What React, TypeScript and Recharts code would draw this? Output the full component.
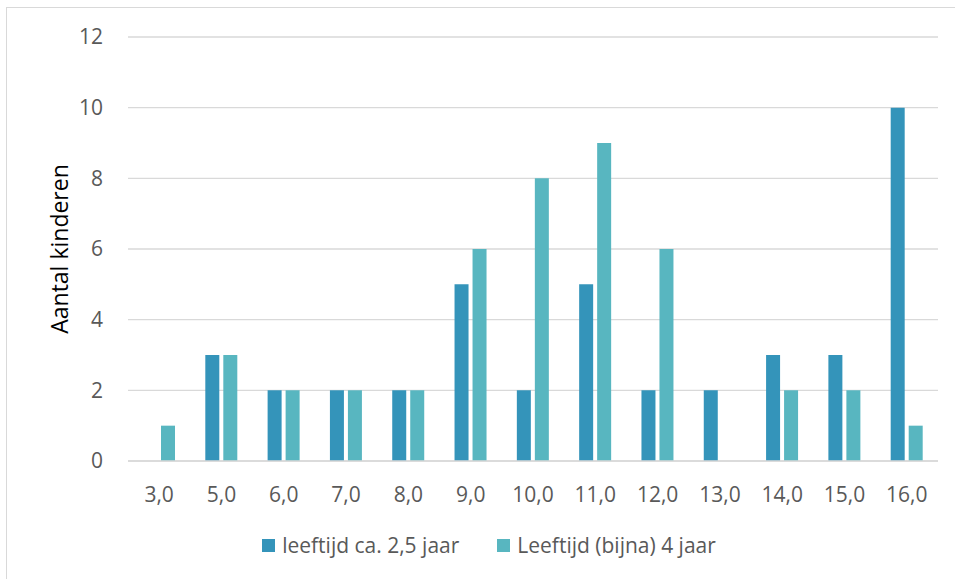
import React from "react";
import {
  BarChart,
  Bar,
  XAxis,
  YAxis,
  CartesianGrid,
  Legend,
} from "recharts";

// Categories (score) and the two series
const categories = ["3,0", "5,0", "6,0", "7,0", "8,0", "9,0", "10,0", "11,0", "12,0", "13,0", "14,0", "15,0", "16,0"];
const jong = [0, 3, 2, 2, 2, 5, 2, 5, 2, 2, 3, 3, 10]; // leeftijd ca. 2,5 jaar
const oud = [1, 3, 2, 2, 2, 6, 8, 9, 6, 0, 2, 2, 1]; // Leeftijd (bijna) 4 jaar
const yTicks = [0, 2, 4, 6, 8, 10, 12];

const DARK = "#3494ba";
const LIGHT = "#58b6c0";
const FONT = "'Open Sans', sans-serif";

const chartData = categories.map((c, i) => ({ cat: c, jong: jong[i], oud: oud[i] }));

const legendItems = [
  { label: "leeftijd ca. 2,5 jaar", color: DARK },
  { label: "Leeftijd (bijna) 4 jaar", color: LIGHT },
];

const CustomLegend = () => (
  <div
    style={{
      display: "flex",
      justifyContent: "center",
      alignItems: "center",
      height: 30,
      paddingRight: 8,
      position: "relative",
      top: 9,
    }}
  >
    {legendItems.map((it, i) => (
      <div key={it.label} style={{ display: "flex", alignItems: "center", marginRight: i === 0 ? 38 : 0 }}>
        <span style={{ width: 13, height: 13, background: it.color, display: "inline-block", marginRight: 7 }} />
        <span style={{ fontFamily: FONT, fontSize: 21, color: "#595959", lineHeight: "30px" }}>{it.label}</span>
      </div>
    ))}
  </div>
);

export default function App() {
  return (
    <div style={{ position: "absolute", left: 0, top: 0, width: 955, height: 579, overflow: "hidden", background: "#fff" }}>
      <div style={{ position: "absolute", left: 6, top: 7, width: 970, height: 590, border: "1.5px solid #d9d9d9" }} />
      <BarChart
        width={955}
        height={579}
        data={chartData}
        margin={{ top: 37, right: 17, left: 48, bottom: 28 }}
        barSize={14}
        barGap={4}
        style={{ position: "absolute", left: 0, top: 0 }}
      >
        <CartesianGrid vertical={false} stroke="#d9d9d9" strokeWidth={1.3} />
        <XAxis
          dataKey="cat"
          height={60}
          tickLine={false}
          tickSize={0}
          tickMargin={26}
          axisLine={{ stroke: "#d9d9d9", strokeWidth: 1.3 }}
          tick={{ fill: "#595959", fontSize: 21, fontFamily: FONT }}
          interval={0}
        />
        <YAxis
          width={80}
          domain={[0, 12]}
          ticks={yTicks}
          axisLine={false}
          tickLine={false}
          tickSize={0}
          tickMargin={25}
          tick={{ fill: "#595959", fontSize: 21, fontFamily: FONT }}
          label={{
            value: "Aantal kinderen",
            angle: -90,
            position: "center",
            dx: -28,
            style: { fill: "#000", fontSize: 23, fontFamily: FONT, textAnchor: "middle" },
          }}
        />
        <Legend verticalAlign="bottom" content={<CustomLegend />} />
        <Bar dataKey="jong" fill={DARK} isAnimationActive={false} />
        <Bar dataKey="oud" fill={LIGHT} isAnimationActive={false} />
      </BarChart>
    </div>
  );
}
